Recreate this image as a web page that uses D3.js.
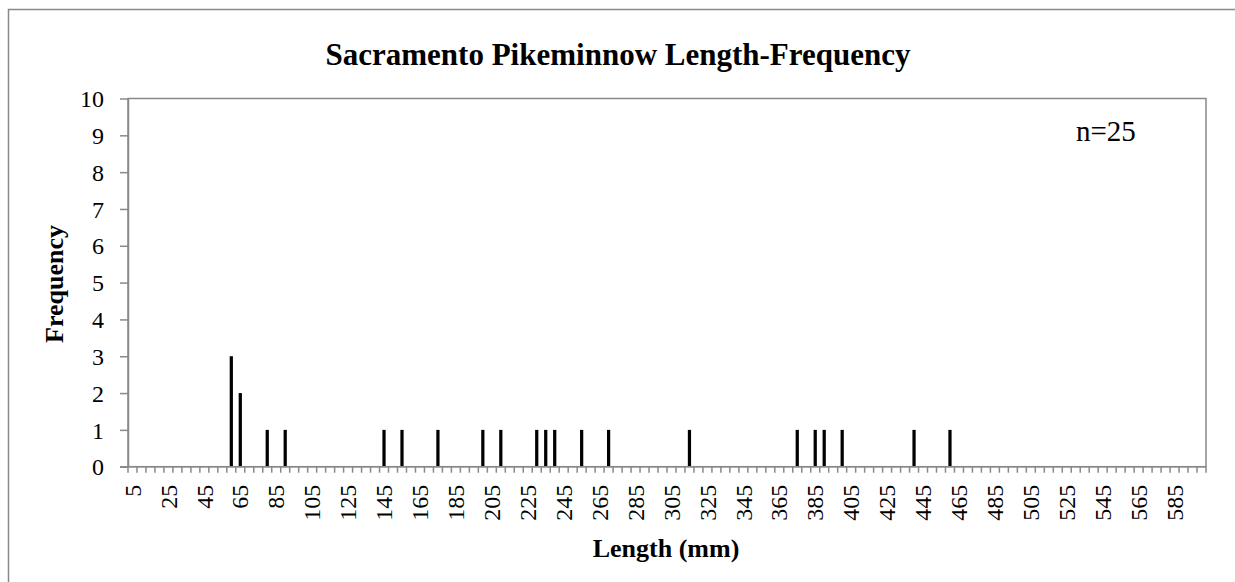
<!DOCTYPE html>
<html>
<head>
<meta charset="utf-8">
<script src="https://cdn.jsdelivr.net/npm/d3@7"></script>
<style>
  body { margin:0; background:#fff; }
  svg text { fill:#000; font-family:"Liberation Serif","Times New Roman",serif; }
</style>
</head>
<body>
<main></main>
<script>
// length bins (mm), one per category on the x axis
const categories=[5,10,15,20,25,30,35,40,45,50,55,60,65,70,75,80,85,90,95,100,
  105,110,115,120,125,130,135,140,145,150,155,160,165,170,175,180,185,190,195,200,
  205,210,215,220,225,230,235,240,245,250,255,260,265,270,275,280,285,290,295,300,
  305,310,315,320,325,330,335,340,345,350,355,360,365,370,375,380,385,390,395,400,
  405,410,415,420,425,430,435,440,445,450,455,460,465,470,475,480,485,490,495,500,
  505,510,515,520,525,530,535,540,545,550,555,560,565,570,575,580,585,590,595,600]
// bins that have fish in them
const binLengths=[60,65,80,90,145,155,175,200,210,230,235,240,255,270,315,375,385,390,400,440,460]
const binCounts =[3,2,1,1,1,1,1,1,1,1,1,1,1,1,1,1,1,1,1,1,1]
const xTickLabels=[5,25,45,65,85,105,125,145,165,185,205,225,245,265,285,305,325,345,365,385,405,425,445,465,485,505,525,545,565,585]
const yTicks=[0,1,2,3,4,5,6,7,8,9,10]

const w=1235, h=582
const padL=128, padR=1206, padT=98.5, padB=466.7
const axisColor="#898989"
const serif="Liberation Serif, Times New Roman, serif"

const svg=d3.select("main").append("svg").attr("width",w).attr("height",h)

// chart border
svg.append("rect")
   .attr("x",8.5).attr("y",9.5).attr("width",1240).attr("height",600)
   .attr("fill","none").attr("stroke",axisColor).attr("stroke-width",1.5)

const x=d3.scaleBand().domain(categories).range([padL,padR]).paddingInner(0.64).paddingOuter(0.32)
const xStep=x.step()
const y=d3.scaleLinear().domain([0,10]).range([padB,padT])

// plot area border
svg.append("rect")
   .attr("x",padL).attr("y",padT).attr("width",padR-padL).attr("height",padB-padT)
   .attr("fill","none").attr("stroke",axisColor).attr("stroke-width",1.5)

// bars
const counts=binLengths.map((l,i)=>({len:l,n:binCounts[i]}))
svg.selectAll("rect.bar")
   .data(counts)
   .enter()
   .append("rect")
   .attr("class","bar")
   .attr("x",d=>x(d.len))
   .attr("y",d=>y(d.n))
   .attr("width",x.bandwidth())
   .attr("height",d=>padB-y(d.n))
   .attr("fill","#000")

// y axis
const yAxis=d3.axisLeft(y).tickValues(yTicks).tickSize(8).tickPadding(16).tickSizeOuter(0)
const gy=svg.append("g").attr("transform","translate("+padL+",0)").call(yAxis)
gy.attr("font-family",serif).attr("font-size",24)
gy.select(".domain").attr("stroke",axisColor).attr("stroke-width",1.5)
gy.selectAll(".tick line").attr("stroke",axisColor).attr("stroke-width",1.5)
gy.selectAll(".tick text").attr("dy","0.34em")

// x axis: minor ticks between categories, labels at category centres
const gx=svg.append("g").attr("transform","translate(0,"+padB+")")
gx.append("line").attr("x1",padL-8).attr("x2",padR).attr("y1",0).attr("y2",0)
  .attr("stroke",axisColor).attr("stroke-width",1.5)
gx.selectAll("line.minor")
  .data(categories)
  .enter()
  .append("line")
  .attr("class","minor")
  .attr("x1",d=>x(d)-x.paddingOuter()*xStep)
  .attr("x2",d=>x(d)-x.paddingOuter()*xStep)
  .attr("y1",0).attr("y2",6)
  .attr("stroke",axisColor).attr("stroke-width",1.5)
gx.append("line").attr("x1",padR).attr("x2",padR).attr("y1",0).attr("y2",6)
  .attr("stroke",axisColor).attr("stroke-width",1.5)
gx.selectAll("text")
  .data(xTickLabels)
  .enter()
  .append("text")
  .attr("transform",d=>"translate("+(x(d)+x.bandwidth()/2)+",18) rotate(-90)")
  .attr("text-anchor","end")
  .attr("dy","0.34em")
  .style("font-size","24px")
  .text(d=>d)

// titles
svg.append("text")
   .attr("x",618).attr("y",65)
   .attr("text-anchor","middle")
   .style("font-size","31px").style("font-weight","bold")
   .text("Sacramento Pikeminnow Length-Frequency")
svg.append("text")
   .attr("transform","translate(63,284) rotate(-90)")
   .attr("text-anchor","middle")
   .style("font-size","26px").style("font-weight","bold")
   .text("Frequency")
svg.append("text")
   .attr("x",666).attr("y",557)
   .attr("text-anchor","middle")
   .style("font-size","26px").style("font-weight","bold")
   .text("Length (mm)")
svg.append("text")
   .attr("x",1076).attr("y",141)
   .style("font-size","29px")
   .text("n=25")
</script>
</body>
</html>
